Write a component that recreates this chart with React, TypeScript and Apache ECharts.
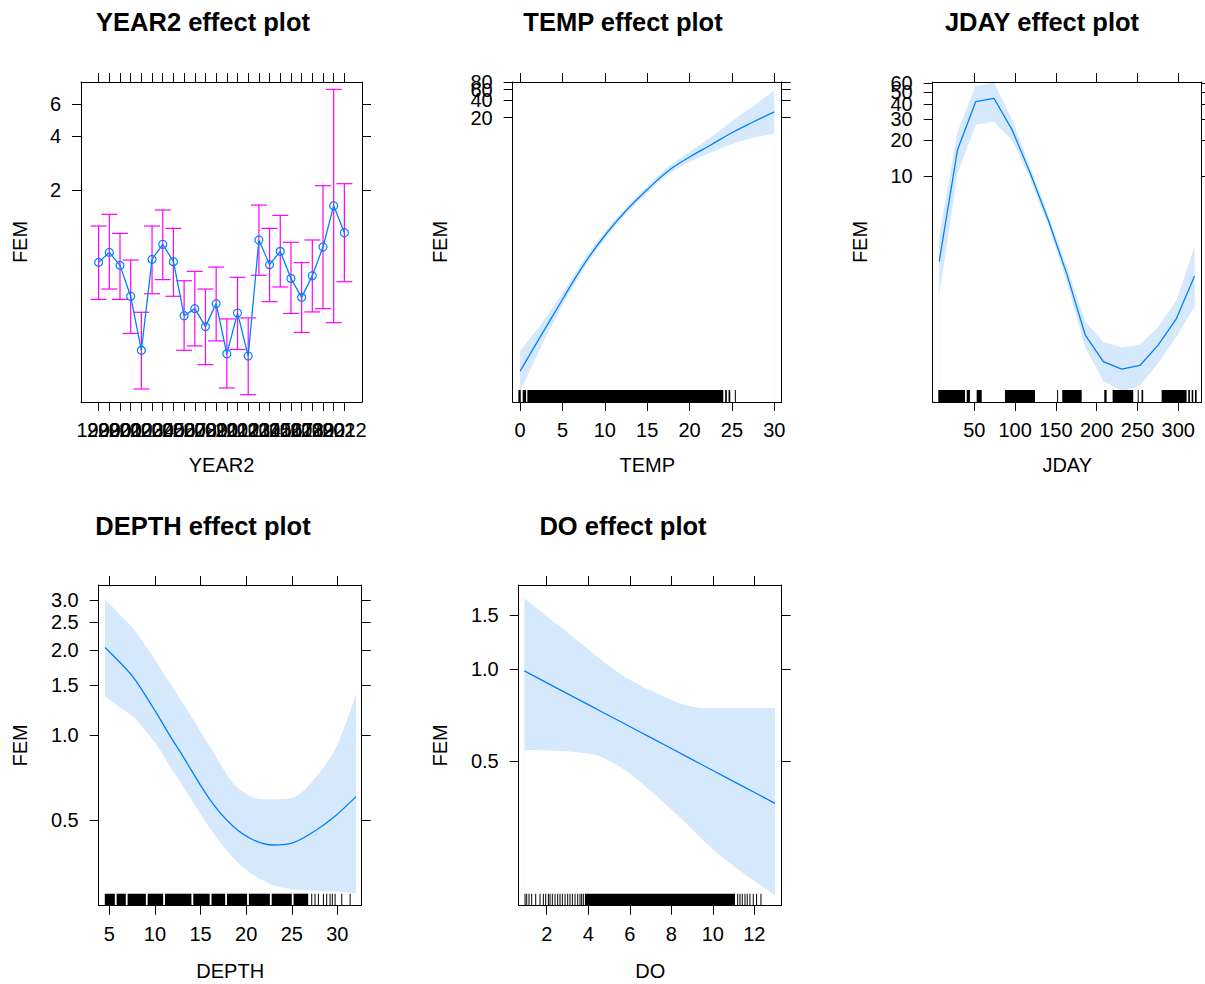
import React, { useEffect, useRef } from "react";
import * as echarts from "echarts";

const FONT = "'Liberation Sans', Arial, Helvetica, sans-serif";
const LINE_COLOR = "#0080ff";
const BAND_COLOR = "#d5e8fc";
const BAR_COLOR = "#ff00ff";

// ---------- YEAR2 ----------
const YEARS = [1999, 2000, 2001, 2002, 2003, 2004, 2005, 2006, 2007, 2008, 2009, 2010, 2011, 2012, 2013, 2014, 2015, 2016, 2017, 2018, 2019, 2020, 2021, 2022];
const YEAR_FIT = [0.791, 0.899, 0.761, 0.512, 0.256, 0.822, 0.997, 0.798, 0.399, 0.437, 0.347, 0.466, 0.245, 0.413, 0.238, 1.054, 0.768, 0.911, 0.644, 0.505, 0.667, 0.963, 1.636, 1.157];
const YEAR_UPPER = [1.26, 1.464, 1.147, 0.815, 0.417, 1.26, 1.548, 1.223, 0.625, 0.705, 0.562, 0.745, 0.383, 0.653, 0.388, 1.65, 1.223, 1.445, 1.023, 0.788, 1.054, 2.114, 7.27, 2.169];
const YEAR_LOWER = [0.492, 0.562, 0.492, 0.318, 0.156, 0.529, 0.634, 0.512, 0.256, 0.271, 0.213, 0.289, 0.158, 0.259, 0.145, 0.67, 0.478, 0.577, 0.411, 0.322, 0.419, 0.437, 0.365, 0.617];
const YEAR_YTICKS = [2, 4, 6];
const YEAR_YLABELS = ["2", "4", "6"];

// ---------- TEMP ----------
const TEMP_X = [0, 2.5, 5, 7.5, 10, 12.5, 15, 17.5, 20, 22.5, 25, 27.5, 30];
const TEMP_FIT = [0.000973, 0.00398, 0.01612, 0.0628, 0.198, 0.522, 1.19, 2.51, 4.28, 6.88, 11.12, 16.9, 25.1];
const TEMP_UPPER = [0.002165, 0.00624, 0.0207, 0.0752, 0.23, 0.595, 1.355, 2.92, 5.23, 9.29, 17.4, 31.4, 58.7];
const TEMP_LOWER = [0.000437, 0.00254, 0.01255, 0.0525, 0.1704, 0.458, 1.045, 2.16, 3.5, 5.1, 7.09, 9.09, 10.7];
const TEMP_RUG = [[-0.2, 0.08], [0.31, 0.71], [0.86, 23.98], [24.2, 24.4], [24.6, 24.8], [25.4, 25.5]];
const TEMP_XTICKS = [0, 5, 10, 15, 20, 25, 30];
const TEMP_YTICKS = [20, 40, 60, 80];
const TEMP_YLABELS = ["20", "40", "60", "80"];

// ---------- JDAY ----------
const JDAY_X = [7, 29.4, 51.7, 74.1, 96.4, 118.8, 141.2, 163.5, 185.9, 208.2, 230.6, 253, 275.3, 297.7, 320];
const JDAY_FIT = [1.92, 16.5, 41.9, 44.7, 24.3, 10.5, 4.18, 1.5, 0.468, 0.279, 0.241, 0.259, 0.383, 0.64, 1.45];
const JDAY_UPPER = [3.1, 23.5, 56.6, 60.3, 29.7, 11.8, 4.62, 1.74, 0.601, 0.408, 0.367, 0.386, 0.543, 0.908, 2.59];
const JDAY_LOWER = [1.0, 10.5, 26.7, 28.5, 19.9, 9.3, 3.78, 1.29, 0.364, 0.191, 0.158, 0.174, 0.27, 0.451, 0.81];
const JDAY_RUG = [[5.9, 38.6], [40.7, 44.7], [52.9, 59.1], [87.6, 124.4], [152.1, 152.3], [157.8, 181.6], [209.3, 212.2], [219.5, 244.8], [250.9, 252.1], [255, 257], [279.6, 310.2], [312.2, 314.3], [316.4, 318.3], [320.5, 322.5]];
const JDAY_XTICKS = [50, 100, 150, 200, 250, 300];
const JDAY_YTICKS = [10, 20, 30, 40, 50, 60];
const JDAY_YLABELS = ["10", "20", "30", "40", "50", "60"];

// ---------- DEPTH ----------
const DEPTH_X = [4.53, 6.07, 7.63, 8.9, 10.2, 11.6, 13.1, 16.04, 18.6, 20.8, 23.0, 25.2, 27.7, 29.9, 32.05];
const DEPTH_FIT = [2.04, 1.82, 1.6, 1.39, 1.19, 1.0, 0.838, 0.59, 0.475, 0.426, 0.409, 0.417, 0.462, 0.522, 0.606];
const DEPTH_UPPER = [3.01, 2.68, 2.38, 2.08, 1.81, 1.53, 1.29, 0.909, 0.675, 0.602, 0.593, 0.602, 0.712, 0.909, 1.4];
const DEPTH_LOWER = [1.37, 1.26, 1.16, 1.04, 0.922, 0.78, 0.657, 0.468, 0.367, 0.32, 0.295, 0.285, 0.282, 0.28, 0.276];
const DEPTH_RUG = [[4.5, 5.6], [5.8, 6.8], [7.0, 9.0], [9.2, 10.9], [11.1, 14.0], [14.2, 16.0], [16.2, 17.7], [17.9, 20.1], [20.3, 22.6], [22.8, 25.0], [25.2, 26.8], [27.19, 27.19], [27.55, 27.55], [27.92, 27.92], [28.47, 28.47], [28.83, 28.83], [29.2, 29.2], [29.45, 29.45], [29.75, 29.75], [30.48, 30.48], [31.4, 31.4]];
const DEPTH_XTICKS = [5, 10, 15, 20, 25, 30];
const DEPTH_YTICKS = [0.5, 1.0, 1.5, 2.0, 2.5, 3.0];
const DEPTH_YLABELS = ["0.5", "1.0", "1.5", "2.0", "2.5", "3.0"];

// ---------- DO ----------
const DO_X = [0.92, 3.93, 5.5, 7.13, 8.7, 10.03, 11.5, 13.0];
const DO_FIT = [0.985, 0.768, 0.675, 0.59, 0.518, 0.464, 0.411, 0.363];
const DO_UPPER = [1.7, 1.17, 0.968, 0.843, 0.762, 0.744, 0.744, 0.744];
const DO_LOWER = [0.543, 0.53, 0.479, 0.392, 0.313, 0.256, 0.214, 0.182];
const DO_RUG = [[0.955, 0.955], [1.035, 1.035], [1.147, 1.147], [1.276, 1.276], [1.469, 1.469], [1.677, 1.677], [1.838, 1.838], [1.95, 1.95], [2.079, 2.079], [2.159, 2.159], [2.271, 2.271], [2.4, 2.4], [2.528, 2.528], [2.64, 2.64], [2.753, 2.753], [2.882, 2.882], [3.01, 3.01], [3.122, 3.122], [3.235, 3.235], [3.363, 3.363], [3.492, 3.492], [3.604, 3.604], [3.684, 3.684], [3.764, 3.764], [3.84, 11.07], [11.2, 11.2], [11.31, 11.31], [11.42, 11.42], [11.55, 11.55], [11.66, 11.66], [11.79, 11.79], [11.95, 11.95], [12.11, 12.11], [12.32, 12.32]];
const DO_XTICKS = [2, 4, 6, 8, 10, 12];
const DO_YTICKS = [0.5, 1.0, 1.5];
const DO_YLABELS = ["0.5", "1.0", "1.5"];

type PanelCfg = {
  title: string;
  titleX: number;
  titleY: number;
  grid: { left: number; top: number; width: number; height: number };
  xMin: number;
  xMax: number;
  xTicks: number[];
  xName: string;
  yMin: number;
  yMax: number;
  yTicks: number[];
  yLabels: string[];
  yNameGap: number;
  xNameGap: number;
};

const PANELS: PanelCfg[] = [
  { title: "YEAR2 effect plot", titleX: 203, titleY: 22, grid: { left: 81, top: 82, width: 281, height: 320 }, xMin: 1997.35, xMax: 2023.65, xTicks: YEARS, xName: "YEAR2", yMin: 0.132, yMax: 7.99, yTicks: YEAR_YTICKS, yLabels: YEAR_YLABELS, yNameGap: 51, xNameGap: 53 },
  { title: "TEMP effect plot", titleX: 623, titleY: 22, grid: { left: 512.7, top: 82, width: 269, height: 320 }, xMin: -0.87, xMax: 30.87, xTicks: TEMP_XTICKS, xName: "TEMP", yMin: 0.00029, yMax: 81.1, yTicks: TEMP_YTICKS, yLabels: TEMP_YLABELS, yNameGap: 62.7, xNameGap: 53 },
  { title: "JDAY effect plot", titleX: 1042, titleY: 22, grid: { left: 932.7, top: 82, width: 269, height: 320 }, xMin: -0.96, xMax: 328.7, xTicks: JDAY_XTICKS, xName: "JDAY", yMin: 0.128, yMax: 61.2, yTicks: JDAY_YTICKS, yLabels: JDAY_YLABELS, yNameGap: 62.7, xNameGap: 53 },
  { title: "DEPTH effect plot", titleX: 203, titleY: 526, grid: { left: 98.7, top: 585, width: 263, height: 320.7 }, xMin: 3.83, xMax: 32.67, xTicks: DEPTH_XTICKS, xName: "DEPTH", yMin: 0.2496, yMax: 3.39, yTicks: DEPTH_YTICKS, yLabels: DEPTH_YLABELS, yNameGap: 68.7, xNameGap: 55 },
  { title: "DO effect plot", titleX: 623, titleY: 526, grid: { left: 518.7, top: 585, width: 263, height: 320.7 }, xMin: 0.65, xMax: 13.32, xTicks: DO_XTICKS, xName: "DO", yMin: 0.168, yMax: 1.88, yTicks: DO_YTICKS, yLabels: DO_YLABELS, yNameGap: 68.7, xNameGap: 55 },
];

// log scale measured from the panel's lower limit (keeps every plotted value >= 0)
const lv = (v: number, gi: number) => Math.log(v / PANELS[gi].yMin);

const axisLineStyle = { color: "#000", width: 1 };
const labelStyle = { color: "#000", fontSize: 20, fontFamily: FONT };

// Confidence band: the upper limit filled down in band colour, then the lower limit filled down in white.
function bandSeries(gi: number, xs: number[], lo: number[], hi: number[], smooth: number | boolean) {
  const common = {
    type: "line",
    xAxisIndex: gi * 2,
    yAxisIndex: gi * 2,
    symbol: "none",
    showSymbol: false,
    smooth,
    silent: true,
    clip: true,
    lineStyle: { width: 0, opacity: 0 },
  };
  return [
    { ...common, z: 1, data: xs.map((x, i) => [x, lv(hi[i], gi)]), areaStyle: { color: BAND_COLOR, opacity: 1, origin: "start" } },
    { ...common, z: 2, data: xs.map((x, i) => [x, lv(lo[i], gi)]), areaStyle: { color: "#ffffff", opacity: 1, origin: "start" } },
  ];
}

function lineSeries(gi: number, xs: number[], fit: number[], smooth: number | boolean, withSymbol = false) {
  return {
    type: "line",
    xAxisIndex: gi * 2,
    yAxisIndex: gi * 2,
    data: xs.map((x, i) => [x, lv(fit[i], gi)]),
    showSymbol: withSymbol,
    symbol: withSymbol ? "circle" : "none",
    symbolSize: 8,
    smooth,
    itemStyle: { color: "rgba(255,255,255,0)", borderColor: LINE_COLOR, borderWidth: 1.2 },
    lineStyle: { color: LINE_COLOR, width: 1.3 },
    clip: true,
    silent: true,
    z: 3,
  };
}

function rugSeries(gi: number, rug: number[][]) {
  return {
    type: "custom",
    xAxisIndex: gi * 2,
    yAxisIndex: gi * 2,
    silent: true,
    data: rug,
    encode: { x: [0, 1] },
    renderItem: (params: any, api: any) => {
      const a = api.coord([api.value(0), 0]);
      const b = api.coord([api.value(1), 0]);
      const cs = params.coordSys;
      const bottom = cs.y + cs.height;
      const span = b[0] - a[0];
      const w = Math.max(1, span);
      return { type: "rect", shape: { x: span < 1 ? a[0] - 0.5 : a[0], y: bottom - 12, width: w, height: 12 }, style: { fill: "#000" } };
    },
    z: 4,
  };
}

function buildOption() {
  const grids: any[] = [];
  const xAxes: any[] = [];
  const yAxes: any[] = [];
  const graphics: any[] = [];
  PANELS.forEach((p, gi) => {
    grids.push({ ...p.grid, containLabel: false, show: false });
    const xEps = (p.xMax - p.xMin) * 1e-4;
    const xLabelVals = [p.xMin + xEps, ...p.xTicks, p.xMax - xEps];
    const xFmt = (v: number) => {
      const hit = p.xTicks.find((t) => Math.abs(t - v) < xEps / 2);
      return hit === undefined ? "" : String(hit);
    };
    const yTop = lv(p.yMax, gi);
    const yCustom = p.yTicks.map((t) => lv(t, gi));
    const yLabelVals = [yTop * 1e-4, ...yCustom, yTop * (1 - 1e-4)];
    const yFmt = (v: number) => {
      let best = -1;
      let bd = Infinity;
      yCustom.forEach((t, k) => {
        const d = Math.abs(t - v);
        if (d < bd) { bd = d; best = k; }
      });
      return bd < yTop * 5e-5 ? p.yLabels[best] : "";
    };
    xAxes.push({
      type: "value", gridIndex: gi, position: "bottom", min: p.xMin, max: p.xMax, z: 10,
      axisLine: { show: true, onZero: false, lineStyle: axisLineStyle },
      axisTick: { show: true, inside: false, length: 9, customValues: p.xTicks, lineStyle: axisLineStyle },
      axisLabel: { show: true, customValues: xLabelVals, formatter: xFmt, margin: 18, hideOverlap: false, ...labelStyle },
      splitLine: { show: false },
      name: p.xName, nameLocation: "middle", nameGap: p.xNameGap,
      nameTextStyle: { ...labelStyle },
    });
    xAxes.push({
      type: "value", gridIndex: gi, position: "top", min: p.xMin, max: p.xMax, z: 10,
      axisLine: { show: true, onZero: false, lineStyle: axisLineStyle },
      axisTick: { show: true, inside: false, length: 9, customValues: p.xTicks, lineStyle: axisLineStyle },
      axisLabel: { show: false },
      splitLine: { show: false },
    });
    yAxes.push({
      type: "value", gridIndex: gi, position: "left", min: 0, max: yTop, z: 10,
      axisLine: { show: true, onZero: false, lineStyle: axisLineStyle },
      axisTick: { show: true, inside: false, length: 9, customValues: yCustom, lineStyle: axisLineStyle },
      axisLabel: { show: true, customValues: yLabelVals, formatter: yFmt, margin: 20, hideOverlap: false, ...labelStyle },
      splitLine: { show: false },
      name: "FEM", nameLocation: "middle", nameGap: p.yNameGap, nameRotate: 90,
      nameTextStyle: { ...labelStyle },
    });
    yAxes.push({
      type: "value", gridIndex: gi, position: "right", min: 0, max: yTop, z: 10,
      axisLine: { show: true, onZero: false, lineStyle: axisLineStyle },
      axisTick: { show: true, inside: false, length: 9, customValues: yCustom, lineStyle: axisLineStyle },
      axisLabel: { show: false },
      splitLine: { show: false },
    });
    graphics.push({
      type: "text", x: p.titleX, y: p.titleY,
      style: { text: p.title, font: `bold 25.5px ${FONT}`, fill: "#000", align: "center", verticalAlign: "middle" },
    });
  });

  const series: any[] = [];
  // YEAR2 panel
  series.push({
    type: "custom",
    xAxisIndex: 0,
    yAxisIndex: 0,
    silent: true,
    data: YEARS.map((y, i) => [y, lv(YEAR_LOWER[i], 0), lv(YEAR_UPPER[i], 0)]),
    encode: { x: 0, y: [1, 2] },
    renderItem: (params: any, api: any) => {
      const x = api.value(0);
      const lo = api.coord([x, api.value(1)]);
      const hi = api.coord([x, api.value(2)]);
      const w = 8;
      const st = { stroke: BAR_COLOR, lineWidth: 1.2 };
      return {
        type: "group",
        children: [
          { type: "line", shape: { x1: lo[0], y1: lo[1], x2: hi[0], y2: hi[1] }, style: st },
          { type: "line", shape: { x1: lo[0] - w, y1: lo[1], x2: lo[0] + w, y2: lo[1] }, style: st },
          { type: "line", shape: { x1: hi[0] - w, y1: hi[1], x2: hi[0] + w, y2: hi[1] }, style: st },
        ],
      };
    },
    z: 2,
  });
  series.push(lineSeries(0, YEARS, YEAR_FIT, false, true));
  // TEMP
  series.push(...bandSeries(1, TEMP_X, TEMP_LOWER, TEMP_UPPER, 0.4));
  series.push(lineSeries(1, TEMP_X, TEMP_FIT, 0.4));
  series.push(rugSeries(1, TEMP_RUG));
  // JDAY
  series.push(...bandSeries(2, JDAY_X, JDAY_LOWER, JDAY_UPPER, false));
  series.push(lineSeries(2, JDAY_X, JDAY_FIT, false));
  series.push(rugSeries(2, JDAY_RUG));
  // DEPTH
  series.push(...bandSeries(3, DEPTH_X, DEPTH_LOWER, DEPTH_UPPER, 0.3));
  series.push(lineSeries(3, DEPTH_X, DEPTH_FIT, 0.3));
  series.push(rugSeries(3, DEPTH_RUG));
  // DO
  series.push(...bandSeries(4, DO_X, DO_LOWER, DO_UPPER, 0.4));
  series.push(lineSeries(4, DO_X, DO_FIT, 0.3));
  series.push(rugSeries(4, DO_RUG));

  return {
    animation: false,
    backgroundColor: "#fff",
    textStyle: { fontFamily: FONT },
    grid: grids,
    xAxis: xAxes,
    yAxis: yAxes,
    graphic: graphics,
    series,
  };
}

export default function App() {
  const ref = useRef<HTMLDivElement>(null);
  useEffect(() => {
    if (!ref.current) return;
    const chart = echarts.init(ref.current, undefined, { renderer: "svg" });
    chart.setOption(buildOption() as any);
    return () => chart.dispose();
  }, []);
  return <div ref={ref} style={{ position: "absolute", left: 0, top: 0, width: 1205, height: 984 }} />;
}
